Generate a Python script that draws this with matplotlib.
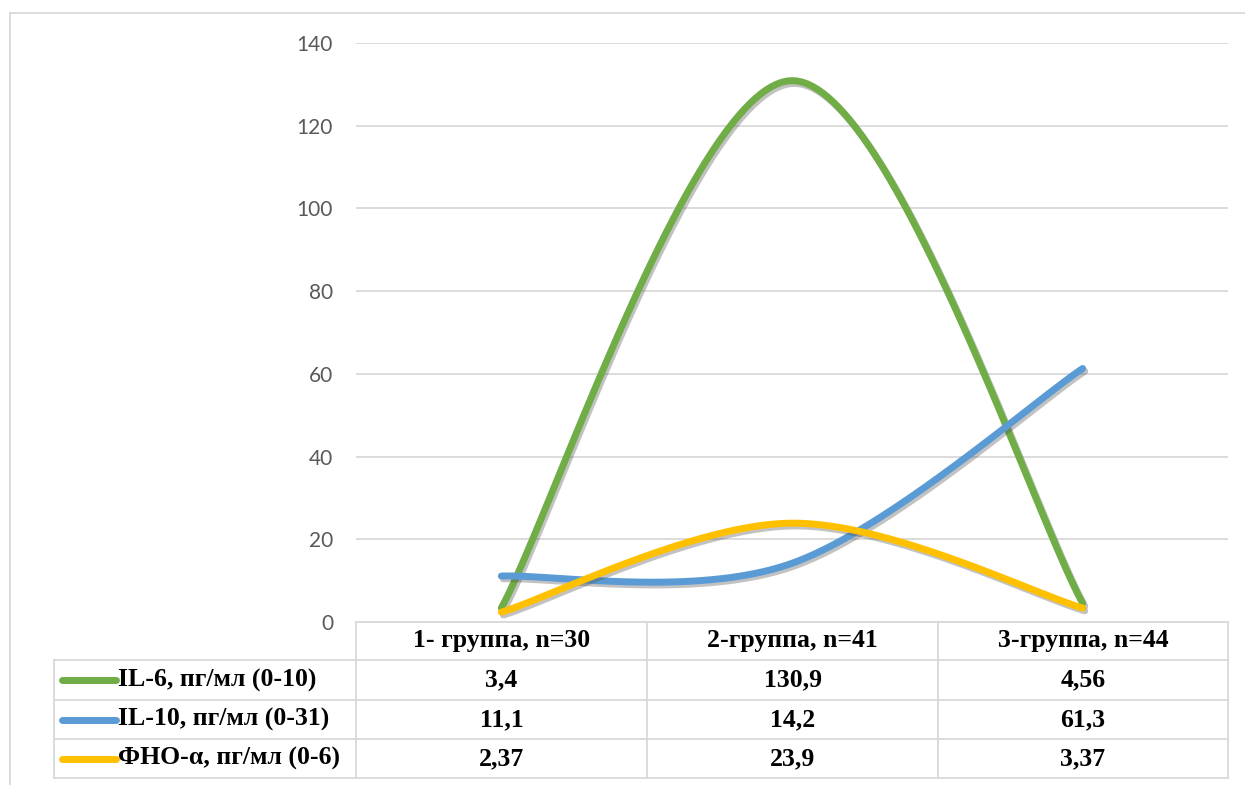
import numpy as np
import matplotlib
matplotlib.use("Agg")
import matplotlib.pyplot as plt
import matplotlib.patheffects as pe
from matplotlib.lines import Line2D

# data
groups = ["1- группа, n=30", "2-группа, n=41", "3-группа, n=44"]
series_names = ["IL-6, пг/мл (0-10)", "IL-10, пг/мл (0-31)", "ФНО-α, пг/мл (0-6)"]
il6 = [3.4, 130.9, 4.56]
il10 = [11.1, 14.2, 61.3]
tnf = [2.37, 23.9, 3.37]
colors = ["#70AD47", "#5B9BD5", "#FFC000"]
yticks = [0, 20, 40, 60, 80, 100, 120, 140]

W, H = 1245, 785


def px(x):
    return x / W


def py(y):
    return 1 - y / H


def smooth(vals, n=60):
    # Excel-like smoothing: cubic bezier with catmull-rom control points
    pts = np.array([[i, v] for i, v in enumerate(vals)], dtype=float)
    ext = np.vstack([pts[0], pts, pts[-1]])
    out = []
    t = np.linspace(0, 1, n)[:, None]
    for i in range(len(pts) - 1):
        p0, p1 = ext[i + 1], ext[i + 2]
        c1 = p0 + (ext[i + 2] - ext[i]) / 6
        c2 = p1 - (ext[i + 3] - ext[i + 1]) / 6
        seg = ((1 - t) ** 3) * p0 + 3 * ((1 - t) ** 2) * t * c1 + 3 * (1 - t) * t ** 2 * c2 + t ** 3 * p1
        out.append(seg if i == 0 else seg[1:])
    return np.vstack(out)


fig = plt.figure(figsize=(W / 100, H / 100), dpi=100)
fig.patch.set_facecolor("white")

left, right, top, bottom = 356, 1228, 43, 622
ax = fig.add_axes([px(left), py(bottom), px(right) - px(left), py(top) - py(bottom)])
ax.set_xlim(-0.5, 2.5)
ax.set_ylim(0, 140)
ax.set_yticks(yticks)
ax.set_yticklabels([str(v) for v in yticks], family="Lato", fontsize=15, color="#595959")
ax.set_xticks([])
ax.tick_params(axis="y", length=0, pad=16.5)
for s in ax.spines.values():
    s.set_visible(False)
ax.grid(axis="y", color="#D9D9D9", lw=1.3)
ax.set_axisbelow(True)

shadow = [pe.SimpleLineShadow(offset=(1.5, -2), alpha=0.35, shadow_color="#505050"), pe.Normal()]
for vals, c in zip([il6, il10, tnf], colors):
    xy = smooth(vals)
    ax.plot(xy[:, 0], xy[:, 1], color=c, lw=5, solid_capstyle="round",
            path_effects=shadow, clip_on=False, zorder=3)

# data table
gc = "#D9D9D9"
rows_y = [622, 660, 700, 739, 778]
cols_x = [54, 356, 647, 938, 1228]
tf = dict(family="Liberation Serif", fontweight="bold", fontsize=18.5, color="black")


def hline(y, x0, x1):
    fig.add_artist(Line2D([px(x0), px(x1)], [py(y), py(y)], color=gc, lw=1.3, transform=fig.transFigure))


def vline(x, y0, y1):
    fig.add_artist(Line2D([px(x), px(x)], [py(y0), py(y1)], color=gc, lw=1.3, transform=fig.transFigure))


hline(rows_y[0], cols_x[1], cols_x[-1])
for y in rows_y[1:]:
    hline(y, cols_x[0], cols_x[-1])
vline(cols_x[0], rows_y[1], rows_y[-1])
for x in cols_x[1:]:
    vline(x, rows_y[0], rows_y[-1])

for j, g in enumerate(groups):
    cx = (cols_x[j + 1] + cols_x[j + 2]) / 2
    fig.text(px(cx), py((rows_y[0] + rows_y[1]) / 2), g, ha="center", va="center", **tf)

for i, (name, vals, c) in enumerate(zip(series_names, [il6, il10, tnf], colors)):
    cy = (rows_y[i + 1] + rows_y[i + 2]) / 2
    fig.add_artist(Line2D([px(62), px(116)], [py(cy), py(cy)], color=c, lw=5,
                          solid_capstyle="round", transform=fig.transFigure))
    fig.text(px(118), py(cy), name, ha="left", va="center", **tf)
    for j, v in enumerate(vals):
        cx = (cols_x[j + 1] + cols_x[j + 2]) / 2
        fig.text(px(cx), py(cy), str(v).replace(".", ","), ha="center", va="center", **tf)

# chart border
fig.add_artist(Line2D([px(10), px(10)], [py(13), py(H + 5)], color=gc, lw=1.3, transform=fig.transFigure))
fig.add_artist(Line2D([px(10), px(W + 5)], [py(13), py(13)], color=gc, lw=1.3, transform=fig.transFigure))

fig.savefig("out.png", dpi=100)
